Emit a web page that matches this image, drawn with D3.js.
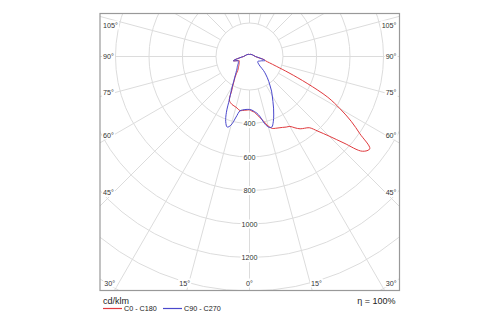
<!DOCTYPE html>
<html><head><meta charset="utf-8">
<script src="https://cdn.jsdelivr.net/npm/d3@7"></script>
<style>html,body{margin:0;padding:0;background:#fff;} svg{display:block;font-family:"Liberation Sans",Arial,sans-serif;}</style>
</head><body>
<script>
// gamma angles (degrees from downward vertical)
const gammas = [0,2.5,5,7.5,10,12.5,15,17.5,20,22.5,25,27.5,30,32.5,35,37.5,40,42.5,45,47.5,50,52.5,55,57.5,60,62.5,65,67.5,70,72.5,75,77.5,80,85,90,120,150,180];
// intensities cd/klm
const c0   = [319,326,334,352,372,398,430,450,456,461,467,475,482,505,527,540,555,605,672,765,880,905,805,720,625,527,380,255,170,125,100,92,70,45,35,20,15,12];
const c180 = [319,320,322,325,328,320,313,309,305,298,285,230,198,170,150,128,109,100,93,88,83,79,76,73,71,69,67,66,72,85,100,90,70,48,35,20,15,12];
const c90  = [316,320,330,342,365,408,436,442,415,378,340,303,272,245,215,190,166,142,118,85,72,65,60,58,58,60,65,70,75,85,95,88,70,48,36,20,15,12];
const c270 = [316,316,318,322,330,370,423,442,415,360,285,240,205,175,155,138,125,115,106,100,95,90,85,80,77,75,74,72,72,85,100,90,72,50,36,20,15,12];
const ringValues = [200,400,600,800,1000,1200,1400,1600,1800,2000,2200,2400];
const ringLabels = [400,600,800,1000,1200];
const sideAngleLabels = [105,90,75,60,45];
const bottomAngleLabels = [30,15,0];
const legendNames = ["C0 - C180","C90 - C270"];
const unitLabel = "cd/klm";
const effLabel = "η = 100%";

const W=500,H=325;
const box={x0:100,y0:13.5,x1:399.5,y1:290.5};
const cx=249.5, cy=56.5;
const colors=["#e03a3e","#4a48cc"];

const r = d3.scaleLinear().domain([0,1200]).range([0,201]);

const svg=d3.select("body").append("svg").attr("width",W).attr("height",H);
svg.append("defs").append("clipPath").attr("id","clip")
  .append("rect").attr("x",box.x0).attr("y",box.y0).attr("width",box.x1-box.x0).attr("height",box.y1-box.y0);

const grid=svg.append("g").attr("clip-path","url(#clip)");
const gc="#dcdcdc";
// rings
grid.selectAll("circle.ring").data(ringValues).enter().append("circle")
  .attr("cx",cx).attr("cy",cy).attr("r",d=>r(d))
  .attr("fill","none").attr("stroke",gc).attr("stroke-width",1);
// spokes every 15 degrees, from ring 200 outward
const spokes=d3.range(0,360,15);
grid.selectAll("line.spoke").data(spokes).enter().append("line")
  .attr("x1",d=>cx+r(200)*Math.sin(d*Math.PI/180))
  .attr("y1",d=>cy+r(200)*Math.cos(d*Math.PI/180))
  .attr("x2",d=>cx+r(3000)*Math.sin(d*Math.PI/180))
  .attr("y2",d=>cy+r(3000)*Math.cos(d*Math.PI/180))
  .attr("stroke",gc).attr("stroke-width",1);

function labelWithBg(g,x,y,text,anchor,size){
  const t=g.append("text").attr("x",x).attr("y",y).attr("text-anchor",anchor)
    .attr("dominant-baseline","central").attr("font-size",size).attr("fill","#333").text(text);
  const b=t.node().getBBox();
  g.insert("rect","text").attr("x",b.x-1).attr("y",b.y).attr("width",b.width+2).attr("height",b.height).attr("fill","#fff");
}
const labs=svg.append("g");
ringLabels.forEach(v=>{
  const gg=labs.append("g");
  labelWithBg(gg,cx,cy+r(v),String(v),"middle",7.2);
});
sideAngleLabels.forEach(a=>{
  const rad=a*Math.PI/180;
  let y=cy+136/Math.tan(rad);
  y=Math.max(y,25);
  labelWithBg(labs.append("g"),103,y,a+"°","start",7.2);
  labelWithBg(labs.append("g"),396.5,y,a+"°","end",7.2);
});
bottomAngleLabels.forEach(a=>{
  const dx=242*Math.tan(a*Math.PI/180);
  labelWithBg(labs.append("g"),cx-dx,283,a+"°","middle",7.2);
  if(a>0) labelWithBg(labs.append("g"),cx+dx+2,283,a+"°","middle",7.2);
});

// box
svg.append("rect").attr("x",box.x0).attr("y",box.y0).attr("width",box.x1-box.x0).attr("height",box.y1-box.y0)
  .attr("fill","none").attr("stroke","#999").attr("stroke-width",1.2);

// curves
const line=d3.lineRadial().angle(d=>d[0]).radius(d=>r(d[1])).curve(d3.curveCatmullRom.alpha(0.5));
function buildCurve(right,left){
  const pts=[];
  for(let i=gammas.length-1;i>=0;i--) pts.push([Math.PI+gammas[i]*Math.PI/180,left[i]]);
  for(let i=1;i<gammas.length;i++) pts.push([Math.PI-gammas[i]*Math.PI/180,right[i]]);
  return pts;
}
const cg=svg.append("g").attr("transform",`translate(${cx},${cy})`);
[[c0,c180],[c90,c270]].forEach((s,i)=>{
  cg.append("path").attr("d",line(buildCurve(s[0],s[1])))
    .attr("fill","none").attr("stroke",colors[i]).attr("stroke-width",1);
});

// texts below
svg.append("text").attr("x",103).attr("y",303.5).attr("font-size",9).attr("fill","#222").text(unitLabel);
svg.append("text").attr("x",395.5).attr("y",303.5).attr("text-anchor","end").attr("font-size",9).attr("fill","#222").text(effLabel);
const lx=[103,163];
legendNames.forEach((n,i)=>{
  svg.append("line").attr("x1",lx[i]).attr("x2",lx[i]+19).attr("y1",308.5).attr("y2",308.5)
    .attr("stroke",colors[i]).attr("stroke-width",1.2);
  svg.append("text").attr("x",lx[i]+21).attr("y",311).attr("font-size",7.2).attr("fill","#222").text(n);
});
</script>
</body></html>
